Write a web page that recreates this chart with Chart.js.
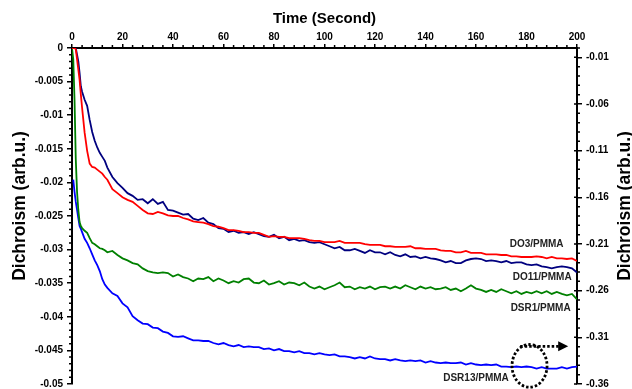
<!DOCTYPE html>
<html>
<head>
<meta charset="utf-8">
<script src="https://cdn.jsdelivr.net/npm/chart.js@4.4.1/dist/chart.umd.min.js"></script>
<style>
  html, body { margin: 0; padding: 0; background: #fff; }
</style>
</head>
<body>
<canvas id="line" width="632" height="389"></canvas>
<script>
// time in seconds
const times = [0, 0.5, 1, 1.5, 2, 2.5, 3, 3.5, 4, 5, 6, 7, 8, 9, 10, 11, 12, 13, 14,
  16, 18, 20, 22, 24, 26, 28, 30, 32, 34, 36, 38, 40, 42, 44, 46, 48, 50, 52, 54,
  56, 58, 60, 62, 64, 66, 68, 70, 72, 74, 76, 78, 80, 82, 84, 86, 88, 90, 92, 94,
  96, 98, 100, 102, 104, 106, 108, 110, 112, 114, 116, 118, 120, 122, 124, 126, 128, 130, 132, 134,
  136, 138, 140, 142, 144, 146, 148, 150, 152, 154, 156, 158, 160, 162, 164, 166, 168, 170, 172, 174,
  176, 178, 180, 182, 184, 186, 188, 190, 192, 194, 196, 198, 200];

const do3 = [0, 0, 0, -0.0002, -0.0017, -0.0032, -0.0047, -0.0069, -0.0089, -0.0126, -0.0153, -0.0172, -0.0177, -0.0178, -0.0181, -0.0184, -0.0187, -0.0192, -0.0196,
  -0.0210, -0.0216, -0.0222, -0.0226, -0.0229, -0.0235, -0.0241, -0.0246, -0.0247, -0.0244,
  -0.0246, -0.0249, -0.0250, -0.0250, -0.0253, -0.0255, -0.0258, -0.0259, -0.0260, -0.0262,
  -0.0265, -0.0266, -0.0268, -0.0271, -0.0271, -0.0272, -0.0274, -0.0274, -0.0275, -0.0275,
  -0.0278, -0.0281, -0.0280, -0.0281, -0.0281, -0.0283, -0.0283, -0.0283, -0.0284, -0.0286,
  -0.0287, -0.0287, -0.0289, -0.0289, -0.0289, -0.0287, -0.0290, -0.0290, -0.0290, -0.0290,
  -0.0292, -0.0293, -0.0293, -0.0293, -0.0295, -0.0295, -0.0296, -0.0296, -0.0296, -0.0295,
  -0.0298, -0.0298, -0.0299, -0.0299, -0.0299, -0.0301, -0.0302, -0.0302, -0.0304, -0.0304,
  -0.0302, -0.0305, -0.0305, -0.0305, -0.0307, -0.0307, -0.0307, -0.0308, -0.0308, -0.0310,
  -0.0310, -0.0311, -0.0311, -0.0311, -0.0310, -0.0311, -0.0313, -0.0311, -0.0313, -0.0313,
  -0.0314, -0.0313, -0.0317];

const do11 = [0, 0, 0, 0, -0.0010, -0.0020, -0.0037, -0.0057, -0.0065, -0.0077, -0.0086, -0.0107, -0.0125, -0.0138, -0.0148, -0.0156, -0.0162, -0.0168, -0.0178,
  -0.0192, -0.0201, -0.0208, -0.0216, -0.0220, -0.0226, -0.0225, -0.0231, -0.0225, -0.0232,
  -0.0229, -0.0241, -0.0242, -0.0245, -0.0248, -0.0247, -0.0254, -0.0256, -0.0253, -0.0260,
  -0.0262, -0.0268, -0.0269, -0.0274, -0.0272, -0.0275, -0.0274, -0.0277, -0.0274, -0.0277,
  -0.0280, -0.0281, -0.0278, -0.0283, -0.0281, -0.0286, -0.0284, -0.0287, -0.0286, -0.0289,
  -0.0290, -0.0289, -0.0292, -0.0295, -0.0298, -0.0296, -0.0301, -0.0301, -0.0299, -0.0302,
  -0.0305, -0.0301, -0.0304, -0.0304, -0.0307, -0.0304, -0.0308, -0.0310, -0.0307, -0.0311,
  -0.0310, -0.0313, -0.0311, -0.0313, -0.0314, -0.0316, -0.0319, -0.0317, -0.0320, -0.0320,
  -0.0316, -0.0314, -0.0313, -0.0314, -0.0317, -0.0316, -0.0317, -0.0319, -0.0317, -0.0320,
  -0.0319, -0.0319, -0.0322, -0.0323, -0.0322, -0.0325, -0.0326, -0.0328, -0.0326, -0.0325,
  -0.0326, -0.0328, -0.0334];

const dsr1 = [0, -0.0017, -0.0077, -0.0166, -0.0214, -0.0241, -0.0259, -0.0265, -0.0268, -0.0272, -0.0275, -0.0283, -0.0290, -0.0292, -0.0295, -0.0298, -0.0299, -0.0301, -0.0304,
  -0.0302, -0.0308, -0.0313, -0.0316, -0.0320, -0.0322, -0.0328, -0.0332, -0.0334, -0.0335,
  -0.0334, -0.0335, -0.0340, -0.0337, -0.0341, -0.0343, -0.0347, -0.0343, -0.0344, -0.0341,
  -0.0347, -0.0343, -0.0346, -0.0350, -0.0347, -0.0349, -0.0344, -0.0343, -0.0349, -0.0350,
  -0.0346, -0.0352, -0.0350, -0.0347, -0.0352, -0.0349, -0.0350, -0.0353, -0.0349, -0.0355,
  -0.0358, -0.0355, -0.0359, -0.0356, -0.0353, -0.0349, -0.0356, -0.0355, -0.0359, -0.0356,
  -0.0358, -0.0355, -0.0359, -0.0356, -0.0355, -0.0358, -0.0355, -0.0358, -0.0353, -0.0356,
  -0.0359, -0.0355, -0.0358, -0.0356, -0.0359, -0.0358, -0.0356, -0.0360, -0.0358, -0.0362,
  -0.0358, -0.0353, -0.0358, -0.0360, -0.0363, -0.0360, -0.0363, -0.0359, -0.0362, -0.0365,
  -0.0362, -0.0366, -0.0363, -0.0365, -0.0362, -0.0365, -0.0362, -0.0366, -0.0363, -0.0366,
  -0.0368, -0.0366, -0.0374];

const dsr13 = [null, -0.0196, -0.0214, -0.0229, -0.0241, -0.0253, -0.0265, -0.0269, -0.0274, -0.0284, -0.0290, -0.0298, -0.0307, -0.0316, -0.0323, -0.0332, -0.0344, -0.0352, -0.0357,
  -0.0365, -0.0369, -0.0380, -0.0386, -0.0399, -0.0405, -0.0410, -0.0411, -0.0416, -0.0417,
  -0.0422, -0.0424, -0.0429, -0.0430, -0.0429, -0.0432, -0.0435, -0.0435, -0.0436, -0.0436,
  -0.0439, -0.0441, -0.0439, -0.0442, -0.0444, -0.0442, -0.0445, -0.0444, -0.0445, -0.0445,
  -0.0448, -0.0447, -0.0450, -0.0448, -0.0451, -0.0451, -0.0453, -0.0451, -0.0454, -0.0454,
  -0.0456, -0.0454, -0.0456, -0.0457, -0.0456, -0.0459, -0.0459, -0.0460, -0.0462, -0.0460,
  -0.0462, -0.0459, -0.0462, -0.0463, -0.0463, -0.0465, -0.0463, -0.0465, -0.0466, -0.0465,
  -0.0466, -0.0465, -0.0468, -0.0466, -0.0468, -0.0469, -0.0468, -0.0469, -0.0469, -0.0468,
  -0.0471, -0.0469, -0.0471, -0.0472, -0.0471, -0.0472, -0.0471, -0.0474, -0.0474, -0.0475,
  -0.0474, -0.0475, -0.0474, -0.0475, -0.0477, -0.0475, -0.0477, -0.0477, -0.0477, -0.0475,
  -0.0477, -0.0475, -0.0474];

const seriesNames = ['DO3/PMMA', 'DO11/PMMA', 'DSR1/PMMA', 'DSR13/PMMA'];
const rightTicks = [-0.01, -0.06, -0.11, -0.16, -0.21, -0.26, -0.31, -0.36];

// label anchors (time, dichroism)
const labelPos = [[184, -0.0292], [186.2, -0.0341], [185.6, -0.0387], [160, -0.0491]];
// dotted ellipse and arrow
const ringCenter = [181.2, -0.0473], ringRadius = [6.94, 0.00318];
const arrowFrom = 177.5, arrowTo = 196.5, arrowAt = -0.0444;

const FONT = '"Liberation Sans", Arial, sans-serif';

function pts(vals) {
  return times.map((t, i) => ({ x: t, y: vals[i] }));
}

function noEdgePad(s) {
  s.paddingTop = 0;
  s.paddingBottom = 0;
}

const decorations = {
  id: 'decorations',
  afterDraw(c) {
    const ctx = c.ctx, x = c.scales.x, y = c.scales.y, y2 = c.scales.y2, a = c.chartArea;
    ctx.save();
    ctx.strokeStyle = '#000';
    ctx.lineWidth = 1.5;
    ctx.beginPath();
    // minor ticks
    for (let t = 0; t <= 200; t += 4) {
      if (t % 20) { const px = x.getPixelForValue(t); ctx.moveTo(px, a.top); ctx.lineTo(px, a.top - 3); }
    }
    for (let k = 0; k <= 50; k++) {
      if (k % 5) { const py = y.getPixelForValue(-k / 1000); ctx.moveTo(a.left, py); ctx.lineTo(a.left - 3, py); }
    }
    for (let k = 0; k <= 36; k++) {
      const py = y2.getPixelForValue(-k / 100);
      if ((k - 1) % 5) { ctx.moveTo(a.right, py); ctx.lineTo(a.right + 3, py); }
      else { ctx.moveTo(a.right, py); ctx.lineTo(a.right - 3, py); }
    }
    ctx.stroke();

    // axis titles
    ctx.fillStyle = '#000';
    ctx.font = 'bold 15px ' + FONT;
    ctx.textAlign = 'center';
    ctx.textBaseline = 'middle';
    ctx.fillText('Time (Second)', (a.left + a.right) / 2, a.top - 29);
    ctx.font = 'bold 17.5px ' + FONT;
    const mid = (a.top + a.bottom) / 2 - 10;
    ctx.save(); ctx.translate(20, mid); ctx.rotate(-Math.PI / 2); ctx.fillText('Dichroism (arb.u.)', 0, 0); ctx.restore();
    ctx.save(); ctx.translate(c.width - 7, mid); ctx.rotate(-Math.PI / 2); ctx.fillText('Dichroism (arb.u.)', 0, 0); ctx.restore();

    // curve labels
    ctx.font = 'bold 10px ' + FONT;
    ctx.fillStyle = '#222';
    seriesNames.forEach((n, i) => {
      ctx.fillText(n, x.getPixelForValue(labelPos[i][0]), y.getPixelForValue(labelPos[i][1]));
    });

    // dotted ring + arrow
    const cx = x.getPixelForValue(ringCenter[0]), cy = y.getPixelForValue(ringCenter[1]);
    const rx = x.getPixelForValue(ringCenter[0] + ringRadius[0]) - cx;
    const ry = y.getPixelForValue(ringCenter[1] - ringRadius[1]) - cy;
    ctx.lineWidth = 2.8;
    ctx.setLineDash([2.5, 2]);
    ctx.beginPath();
    ctx.ellipse(cx, cy, rx, ry, 0, 0, Math.PI * 2);
    ctx.stroke();
    const ay = y.getPixelForValue(arrowAt);
    const tip = x.getPixelForValue(arrowTo);
    ctx.beginPath();
    ctx.moveTo(x.getPixelForValue(arrowFrom), ay);
    ctx.lineTo(tip - 8, ay);
    ctx.stroke();
    ctx.setLineDash([]);
    ctx.fillStyle = '#000';
    ctx.beginPath();
    ctx.moveTo(tip, ay);
    ctx.lineTo(tip - 10, ay - 5);
    ctx.lineTo(tip - 10, ay + 5);
    ctx.closePath();
    ctx.fill();
    ctx.restore();
  }
};

const colors = ['#ff0000', '#00007f', '#008000', '#0000ff'];
const series = [do3, do11, dsr1, dsr13];

new Chart(document.getElementById('line').getContext('2d'), {
  type: 'line',
  data: {
    datasets: series.map((s, i) => ({
      label: seriesNames[i],
      data: pts(s),
      borderColor: colors[i],
      borderWidth: 1.8,
      pointRadius: 0,
      tension: 0,
      fill: false
    }))
  },
  options: {
    responsive: false,
    animation: false,
    devicePixelRatio: 1,
    layout: { padding: { top: 0, bottom: 5, left: 0, right: 0 } },
    plugins: { legend: { display: false }, tooltip: { enabled: false } },
    scales: {
      x: {
        type: 'linear', position: 'top', min: 0, max: 200,
        afterFit(s) { s.height = 48; s.paddingLeft = 0; s.paddingRight = 0; },
        ticks: { stepSize: 20, padding: 1, color: '#000', font: { family: FONT, size: 10, weight: 'bold' }, maxRotation: 0 },
        grid: { drawOnChartArea: false, tickLength: 4, color: '#000', lineWidth: 1.5 },
        border: { display: true, color: '#000', width: 2 }
      },
      y: {
        type: 'linear', position: 'left', min: -0.05, max: 0,
        afterFit(s) { s.width = 72; noEdgePad(s); },
        ticks: {
          stepSize: 0.005, padding: 4, color: '#000', font: { family: FONT, size: 10, weight: 'bold' },
          callback: v => String(Number(v.toFixed(3)))
        },
        grid: { drawOnChartArea: false, tickLength: 5, color: '#000', lineWidth: 1.5 },
        border: { display: true, color: '#000', width: 2 }
      },
      y2: {
        type: 'linear', position: 'right', min: -0.36, max: 0,
        afterFit(s) { s.width = 55; noEdgePad(s); },
        afterBuildTicks(s) { s.ticks = rightTicks.map(v => ({ value: v })); },
        ticks: {
          padding: 4, color: '#000', font: { family: FONT, size: 10, weight: 'bold' },
          callback: v => v.toFixed(2)
        },
        grid: { drawOnChartArea: false, tickLength: 5, color: '#000', lineWidth: 1.5 },
        border: { display: true, color: '#000', width: 2 }
      }
    }
  },
  plugins: [decorations]
});
</script>
</body>
</html>
